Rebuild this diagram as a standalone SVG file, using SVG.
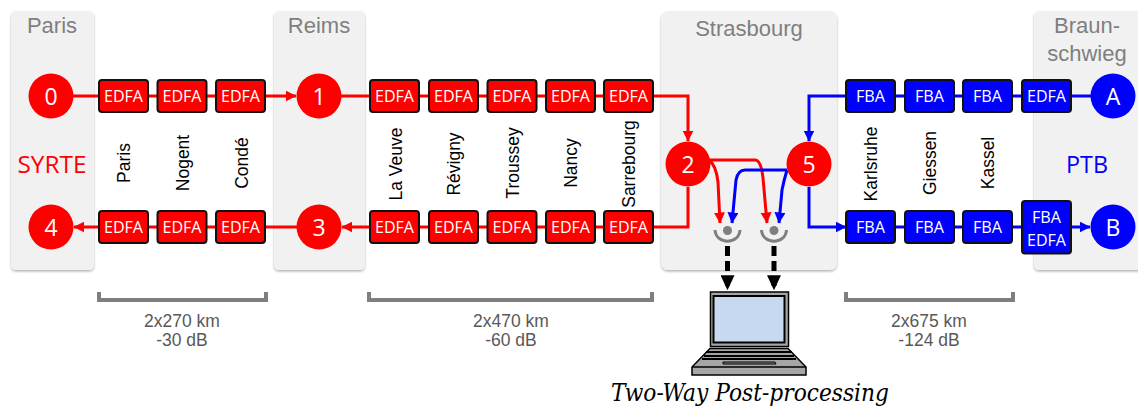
<svg xmlns="http://www.w3.org/2000/svg" width="1138" height="408" viewBox="0 0 1138 408">
<defs>
<filter id="sh" x="-10%" y="-10%" width="120%" height="120%"><feDropShadow dx="0" dy="1.5" stdDeviation="1.2" flood-color="#000" flood-opacity="0.3"/></filter>
<marker id="ar" viewBox="0 0 10 10" refX="9.5" refY="5" markerWidth="11" markerHeight="11" markerUnits="userSpaceOnUse" orient="auto"><path d="M0 0L10 5L0 10Z" fill="#f00"/></marker>
<marker id="ab" viewBox="0 0 10 10" refX="9.5" refY="5" markerWidth="11" markerHeight="11" markerUnits="userSpaceOnUse" orient="auto"><path d="M0 0L10 5L0 10Z" fill="#00f"/></marker>
<marker id="ak" viewBox="0 0 10 10" refX="9.800" refY="5" markerWidth="15" markerHeight="14" markerUnits="userSpaceOnUse" orient="auto" preserveAspectRatio="none"><path d="M0 0L10 5L0 10Z" fill="#000"/></marker>
</defs>
<style>
text{font-family:"Liberation Sans",Arial,sans-serif}
text.o,text.w,text.n{font-family:"Open Sans","Noto Sans",sans-serif}
text.s{font-family:"DejaVu Serif","Liberation Serif",serif;font-style:italic}
.p{fill:#f1f1f1;filter:url(#sh)}
.t{font-size:22px;fill:#7f7f7f;text-anchor:middle}
.r{fill:#f00;stroke:#111;stroke-width:2}
.b{fill:#00f;stroke:#111;stroke-width:2}
.w{font-size:16.500px;fill:#fff;text-anchor:middle}
.n{font-size:23px;fill:#fff;text-anchor:middle}
.c{font-size:17.500px;fill:#000;text-anchor:middle}
.d{font-size:17.500px;fill:#595959;text-anchor:middle}
.lr{fill:none;stroke:#f00;stroke-width:3}
.lb{fill:none;stroke:#00f;stroke-width:3}
.br{fill:none;stroke:#7f7f7f;stroke-width:4}
</style>
<g id="panels">
<rect class="p" x="11" y="11" width="83" height="259" rx="5"/>
<rect class="p" x="274" y="11" width="91" height="259" rx="5"/>
<rect class="p" x="661" y="11" width="176" height="259" rx="7"/>
<rect class="p" x="1034" y="11" width="110" height="259" rx="5"/>
<text class="t" x="52" y="33">Paris</text>
<text class="t" x="319" y="33">Reims</text>
<text class="t" x="749" y="36">Strasbourg</text>
<text class="t" x="1087" y="33">Braun-</text>
<text class="t" x="1087" y="61">schwieg</text>
<text x="52" y="173" font-size="24" fill="#f00" text-anchor="middle" class="o" textLength="69" lengthAdjust="spacingAndGlyphs">SYRTE</text>
<text x="1087" y="173" font-size="24" fill="#00f" text-anchor="middle" class="o" textLength="42" lengthAdjust="spacingAndGlyphs">PTB</text>
</g>
<g id="connectors">
<path class="lr" d="M51 96H296" marker-end="url(#ar)"/>
<path class="lr" d="M319 96H688V141" marker-end="url(#ar)"/>
<path class="lr" d="M688 187V227H342" marker-end="url(#ar)"/>
<path class="lr" d="M319 227H74" marker-end="url(#ar)"/>
<path class="lb" d="M1113 96H809V141" marker-end="url(#ab)"/>
<path class="lb" d="M809 187V227H846" marker-end="url(#ab)"/>
<path class="lb" d="M846 227H1090" marker-end="url(#ab)"/>
<path class="lr" d="M709 160Q716 165 718 182L720 223" marker-end="url(#ar)"/>
<path class="lr" d="M709 160H755Q761 160 763 178L767 223" marker-end="url(#ar)"/>
<path class="lb" d="M787 170H745Q738 170 736 180L732 223" marker-end="url(#ab)"/>
<path class="lb" d="M787 170Q784 180 782 190L779 223" marker-end="url(#ab)"/>
<path d="M727.500 246V290" fill="none" stroke="#000" stroke-width="5" stroke-dasharray="10 5" marker-end="url(#ak)"/>
<path d="M774 246V290" fill="none" stroke="#000" stroke-width="5" stroke-dasharray="10 5" marker-end="url(#ak)"/>
</g>
<g id="detectors" fill="none" stroke="#7f7f7f" stroke-width="3">
<circle cx="727.500" cy="230.500" r="4.500" fill="#7f7f7f" stroke="none"/>
<path d="M715 230C716 245 739 245 740 230"/>
<circle cx="774" cy="230.500" r="4.500" fill="#7f7f7f" stroke="none"/>
<path d="M761.500 230C762.500 245 785.500 245 786.500 230"/>
</g>
<g id="n0"><circle cx="51" cy="96" r="22.500" fill="#f00"/><text class="n" x="51" y="105">0</text></g>
<g id="n1"><circle cx="319" cy="96" r="22.500" fill="#f00"/><text class="n" x="319" y="105">1</text></g>
<g id="n2"><circle cx="688" cy="164" r="22.500" fill="#f00"/><text class="n" x="688" y="172.500">2</text></g>
<g id="n3"><circle cx="319" cy="227" r="22.500" fill="#f00"/><text class="n" x="319" y="236">3</text></g>
<g id="n4"><circle cx="51" cy="227" r="22.500" fill="#f00"/><text class="n" x="51" y="236">4</text></g>
<g id="n5"><circle cx="809" cy="164" r="22.500" fill="#f00"/><text class="n" x="809" y="172.500">5</text></g>
<g id="nA"><circle cx="1113" cy="96" r="22.500" fill="#00f"/><text class="n" x="1113" y="105">A</text></g>
<g id="nB"><circle cx="1113" cy="227" r="22.500" fill="#00f"/><text class="n" x="1113" y="236">B</text></g>
<g id="amps-top-red">
<g><rect class="r" x="99" y="80" width="49" height="32" rx="3"/><text class="w" x="123.500" y="102" textLength="39" lengthAdjust="spacingAndGlyphs">EDFA</text></g>
<g><rect class="r" x="157.500" y="80" width="49" height="32" rx="3"/><text class="w" x="182" y="102" textLength="39" lengthAdjust="spacingAndGlyphs">EDFA</text></g>
<g><rect class="r" x="216" y="80" width="49" height="32" rx="3"/><text class="w" x="240.500" y="102" textLength="39" lengthAdjust="spacingAndGlyphs">EDFA</text></g>
<g><rect class="r" x="370" y="80" width="49" height="32" rx="3"/><text class="w" x="394.500" y="102" textLength="39" lengthAdjust="spacingAndGlyphs">EDFA</text></g>
<g><rect class="r" x="429" y="80" width="49" height="32" rx="3"/><text class="w" x="453.500" y="102" textLength="39" lengthAdjust="spacingAndGlyphs">EDFA</text></g>
<g><rect class="r" x="487.500" y="80" width="49" height="32" rx="3"/><text class="w" x="512" y="102" textLength="39" lengthAdjust="spacingAndGlyphs">EDFA</text></g>
<g><rect class="r" x="546" y="80" width="49" height="32" rx="3"/><text class="w" x="570.500" y="102" textLength="39" lengthAdjust="spacingAndGlyphs">EDFA</text></g>
<g><rect class="r" x="604" y="80" width="49" height="32" rx="3"/><text class="w" x="628.500" y="102" textLength="39" lengthAdjust="spacingAndGlyphs">EDFA</text></g>
</g>
<g id="amps-bottom-red">
<g><rect class="r" x="99" y="211" width="49" height="32" rx="3"/><text class="w" x="123.500" y="233" textLength="39" lengthAdjust="spacingAndGlyphs">EDFA</text></g>
<g><rect class="r" x="157.500" y="211" width="49" height="32" rx="3"/><text class="w" x="182" y="233" textLength="39" lengthAdjust="spacingAndGlyphs">EDFA</text></g>
<g><rect class="r" x="216" y="211" width="49" height="32" rx="3"/><text class="w" x="240.500" y="233" textLength="39" lengthAdjust="spacingAndGlyphs">EDFA</text></g>
<g><rect class="r" x="370" y="211" width="49" height="32" rx="3"/><text class="w" x="394.500" y="233" textLength="39" lengthAdjust="spacingAndGlyphs">EDFA</text></g>
<g><rect class="r" x="429" y="211" width="49" height="32" rx="3"/><text class="w" x="453.500" y="233" textLength="39" lengthAdjust="spacingAndGlyphs">EDFA</text></g>
<g><rect class="r" x="487.500" y="211" width="49" height="32" rx="3"/><text class="w" x="512" y="233" textLength="39" lengthAdjust="spacingAndGlyphs">EDFA</text></g>
<g><rect class="r" x="546" y="211" width="49" height="32" rx="3"/><text class="w" x="570.500" y="233" textLength="39" lengthAdjust="spacingAndGlyphs">EDFA</text></g>
<g><rect class="r" x="604" y="211" width="49" height="32" rx="3"/><text class="w" x="628.500" y="233" textLength="39" lengthAdjust="spacingAndGlyphs">EDFA</text></g>
</g>
<g id="amps-blue">
<g><rect class="b" x="846" y="80" width="49" height="32" rx="3"/><text class="w" x="870.500" y="102" textLength="29" lengthAdjust="spacingAndGlyphs">FBA</text></g>
<g><rect class="b" x="905" y="80" width="49" height="32" rx="3"/><text class="w" x="929.500" y="102" textLength="29" lengthAdjust="spacingAndGlyphs">FBA</text></g>
<g><rect class="b" x="963" y="80" width="49" height="32" rx="3"/><text class="w" x="987.500" y="102" textLength="29" lengthAdjust="spacingAndGlyphs">FBA</text></g>
<g><rect class="b" x="1022" y="80" width="49" height="32" rx="3"/><text class="w" x="1046.500" y="102" textLength="39" lengthAdjust="spacingAndGlyphs">EDFA</text></g>
<g><rect class="b" x="846" y="211" width="49" height="32" rx="3"/><text class="w" x="870.500" y="233" textLength="29" lengthAdjust="spacingAndGlyphs">FBA</text></g>
<g><rect class="b" x="905" y="211" width="49" height="32" rx="3"/><text class="w" x="929.500" y="233" textLength="29" lengthAdjust="spacingAndGlyphs">FBA</text></g>
<g><rect class="b" x="963" y="211" width="49" height="32" rx="3"/><text class="w" x="987.500" y="233" textLength="29" lengthAdjust="spacingAndGlyphs">FBA</text></g>
<g><rect class="b" x="1022" y="201" width="49" height="52.500" rx="3"/><text class="w" x="1046.500" y="223" textLength="29" lengthAdjust="spacingAndGlyphs">FBA</text><text class="w" x="1046.500" y="246" textLength="39" lengthAdjust="spacingAndGlyphs">EDFA</text></g>
</g>
<g id="sites">
<text class="c" transform="translate(130,163) rotate(-90)">Paris</text>
<text class="c" transform="translate(189,163) rotate(-90)">Nogent</text>
<text class="c" transform="translate(247.500,163) rotate(-90)">Condé</text>
<text class="c" transform="translate(402,164) rotate(-90)">La Veuve</text>
<text class="c" transform="translate(460,164) rotate(-90)">Révigny</text>
<text class="c" transform="translate(519,163) rotate(-90)">Troussey</text>
<text class="c" transform="translate(577,163) rotate(-90)">Nancy</text>
<text class="c" transform="translate(635,164) rotate(-90)">Sarrebourg</text>
<text class="c" transform="translate(877,164) rotate(-90)">Karlsruhe</text>
<text class="c" transform="translate(936,163) rotate(-90)">Giessen</text>
<text class="c" transform="translate(994,163) rotate(-90)">Kassel</text>
</g>
<g id="spans">
<path class="br" d="M99 292V300H266V292"/>
<path class="br" d="M369 292V300H652V292"/>
<path class="br" d="M846 292V300H1013V292"/>
<text class="d" x="182" y="327">2x270 km</text><text class="d" x="182" y="346">-30 dB</text>
<text class="d" x="511" y="327">2x470 km</text><text class="d" x="511" y="346">-60 dB</text>
<text class="d" x="929" y="327">2x675 km</text><text class="d" x="929" y="346">-124 dB</text>
</g>
<g id="laptop" stroke="#000">
<rect x="710.500" y="292" width="78" height="54.500" fill="#a6a6a6" stroke-width="1.500"/>
<rect x="713.500" y="296" width="71" height="46.500" fill="#c6d9f1" stroke-width="2"/>
<path d="M710 348.500H788L806 367V375H692V367Z" fill="#a6a6a6" stroke-width="1.500"/>
<path d="M692 367H806" fill="none" stroke-width="1.500"/>
<path d="M706 352H792M704 356H794M702 359H796" fill="none" stroke-width="2"/>
<path d="M723 362H775L776 364H723Z" fill="#888" stroke-width="1"/>
</g>
<text class="s" x="750" y="401" font-size="25" fill="#000" text-anchor="middle" textLength="278" lengthAdjust="spacingAndGlyphs">Two-Way Post-processing</text>
</svg>
